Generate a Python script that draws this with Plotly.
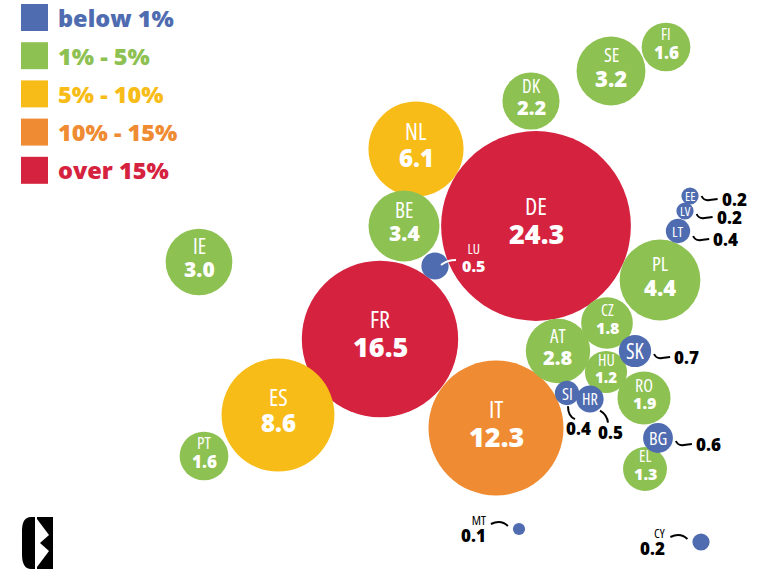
import numpy as np
import plotly.graph_objects as go

# ---------------- data ----------------
countries = ["NL", "BE", "FR", "DE", "IT", "ES", "IE", "PT", "DK", "SE", "FI", "PL", "CZ",
             "AT", "HU", "RO", "EL", "LU", "EE", "LV", "LT", "SK", "SI", "HR", "BG", "MT", "CY"]
shares = [6.1, 3.4, 16.5, 24.3, 12.3, 8.6, 3.0, 1.6, 2.2, 3.2, 1.6, 4.4, 1.8,
          2.8, 1.2, 1.9, 1.3, 0.5, 0.2, 0.2, 0.4, 0.7, 0.4, 0.5, 0.6, 0.1, 0.2]
# bubble-map layout positions (horizontal / vertical placement of each country bubble)
x_pos = [416, 404, 380, 536, 496, 278, 199, 204, 531, 611, 666, 660, 607,
         558, 606, 644, 645, 435, 690, 685, 678, 635, 567, 590, 658, 519, 701]
y_pos = [149, 226, 339, 226, 428, 415, 262, 456, 101, 71, 47, 280, 323,
         351, 372, 398, 469, 266, 196, 211, 231, 351, 393, 399, 438, 529, 542]

legend_labels = ["below 1%", "1% - 5%", "5% - 10%", "10% - 15%", "over 15%"]
legend_bounds = [0, 1, 5, 10, 15]

# ---------------- styles ----------------
BIN_COLORS = ["#4F6CB1", "#8DC152", "#F8BC19", "#EF8B32", "#D5223F"]
CODE_FONT = "Open Sans, Liberation Sans Narrow, sans-serif"
VALUE_FONT = "Open Sans, Lato, DejaVu Sans, sans-serif"
DIAM_PER_SQRT = 38.5  # px diameter for share 1.0 (area proportional to value)

# (code font size, value font size) for labels inside bubbles
SIZES = {"DE": (24, 27), "FR": (24, 27), "IT": (24, 27), "ES": (23, 24), "NL": (23, 24),
         "BE": (21, 21), "IE": (21, 21), "SE": (19, 22), "DK": (19, 20), "PL": (20, 22),
         "AT": (19, 20), "FI": (16, 17), "CZ": (16, 16), "HU": (16, 15), "RO": (18, 16),
         "EL": (16, 16), "PT": (17, 17),
         "SK": (21, 0), "SI": (17, 0), "HR": (16, 0), "BG": (18, 0),
         "EE": (13, 0), "LV": (13, 0), "LT": (15, 0)}

# external value labels with leader lines on the right: vertical offset
RIGHT_LEADERS = {"EE": 3, "LV": 6, "LT": 8, "SK": 6, "BG": 6}
EXT_SIZE = 17


def color_for(v):
    idx = 0
    for i, b in enumerate(legend_bounds):
        if v >= b:
            idx = i
    return BIN_COLORS[idx]


def cond(s):
    return (f'<span style="font-stretch:75%;font-variation-settings:\'wdth\' 75">'
            f'{s}</span>')


diam = [DIAM_PER_SQRT * np.sqrt(v) for v in shares]
colors = [color_for(v) for v in shares]

fig = go.Figure()
fig.add_trace(go.Scatter(
    x=x_pos, y=y_pos, mode="markers",
    marker=dict(size=diam, sizemode="diameter", color=colors, line=dict(width=0), opacity=1),
    hoverinfo="skip", showlegend=False,
))

annotations = []
shapes = []


def txt(x, y, s, size, family, color="white", weight=None, xanchor="center", align="center"):
    f = dict(size=size, family=family, color=color)
    if weight:
        f["weight"] = weight
    annotations.append(dict(x=x, y=y, xref="x", yref="y", text=s, showarrow=False,
                            font=f, xanchor=xanchor, yanchor="middle", align=align))


def pair(x, y, code, val, csize, vsize, color, xanchor, align):
    s = (f'{cond(code)}<br><span style="font-family:{VALUE_FONT};font-weight:800;'
         f'font-size:{vsize}px">{val}</span>')
    txt(x, y, s, csize, CODE_FONT, color=color, weight=500, xanchor=xanchor, align=align)


LW = 2
for c, v, cx, cy, d in zip(countries, shares, x_pos, y_pos, diam):
    r = d / 2
    val = f"{v:.1f}"
    if c in SIZES:
        cs, vs = SIZES[c]
        if vs:
            gap = 0.55 * (cs + vs)
            mid = cy - 3 - 0.02 * d
            txt(cx, mid - gap / 2, cond(c), cs, CODE_FONT, weight=500)
            txt(cx, mid + gap / 2, val, vs, VALUE_FONT, weight=800)
        else:
            txt(cx, cy, cond(c), cs, CODE_FONT, weight=500)
    if c in RIGHT_LEADERS:
        dy = RIGHT_LEADERS[c]
        sx, sy = cx + r + 3, cy + dy - 3
        shapes.append(dict(type="path", xref="x", yref="y",
                           path=f"M {sx},{sy} Q {sx+2},{sy+5} {sx+8},{sy+4} L {sx+16},{sy+3}",
                           line=dict(color="black", width=LW)))
        txt(sx + 18, cy + dy, val, EXT_SIZE, VALUE_FONT, color="black", weight=800, xanchor="left")
    elif c == "SI":
        sx, sy = cx + 1, cy + r + 1
        shapes.append(dict(type="path", xref="x", yref="y",
                           path=f"M {sx},{sy} Q {sx},{sy+10} {sx+7},{sy+13}",
                           line=dict(color="black", width=LW)))
        txt(cx + 11, cy + r + 23, val, EXT_SIZE, VALUE_FONT, color="black", weight=800)
    elif c == "HR":
        sx, sy = cx + 10, cy + r - 2
        shapes.append(dict(type="path", xref="x", yref="y",
                           path=f"M {sx},{sy} Q {sx+7},{sy+4} {sx+8},{sy+12}",
                           line=dict(color="black", width=LW)))
        txt(cx + 20, cy + r + 20, val, EXT_SIZE, VALUE_FONT, color="black", weight=800)
    elif c in ("MT", "CY"):
        sx, sy = cx - r - 5, cy - 3
        shapes.append(dict(type="path", xref="x", yref="y",
                           path=f"M {sx},{sy} Q {sx-7},{sy-7} {sx-17},{sy-2}",
                           line=dict(color="black", width=LW)))
        pair(sx - 20, cy, c, val, 13, EXT_SIZE, "black", "right", "right")
    elif c == "LU":
        sx, sy = cx + 6, cy - 1
        shapes.append(dict(type="path", xref="x", yref="y",
                           path=f"M {sx},{sy} Q {sx+6},{sy-5} {sx+15},{sy-5}",
                           line=dict(color="white", width=LW)))
        pair(cx + 25, cy - 8, c, val, 14, 16, "white", "left", "center")

# ---------------- legend (top-left) ----------------
for i, (lab, col) in enumerate(zip(legend_labels, BIN_COLORS)):
    yc = 17.5 + i * 38.2
    shapes.append(dict(type="rect", xref="x", yref="y", x0=21, x1=48, y0=yc - 13.5, y1=yc + 13.5,
                       fillcolor=col, line=dict(width=0)))
    txt(56, yc, lab, 23.5, VALUE_FONT, color=col, weight=800, xanchor="left")

# ---------------- logo (bottom-left) ----------------
shapes.append(dict(type="path", xref="x", yref="y",
                   path="M 35,517 L 31,517 Q 22,517 22,531 L 22,554 Q 22,569 31,569 L 35,569 Z",
                   fillcolor="black", line=dict(width=0)))
shapes.append(dict(type="rect", xref="x", yref="y", x0=37, x1=53, y0=517, y1=569,
                   fillcolor="black", line=dict(width=0)))
shapes.append(dict(type="path", xref="x", yref="y",
                   path="M 37,519 L 49,535 L 40,543 L 49,551 L 37,567 Z",
                   fillcolor="white", line=dict(width=0)))

fig.update_layout(
    width=770, height=577,
    margin=dict(l=0, r=0, t=0, b=0),
    paper_bgcolor="white", plot_bgcolor="white",
    xaxis=dict(range=[0, 770], visible=False, fixedrange=True),
    yaxis=dict(range=[577, 0], visible=False, fixedrange=True),
    annotations=annotations, shapes=shapes, showlegend=False,
)

fig.write_html("out.html", config={"displayModeBar": False},
               post_script="document.body.style.margin='0';document.body.style.padding='0';")
